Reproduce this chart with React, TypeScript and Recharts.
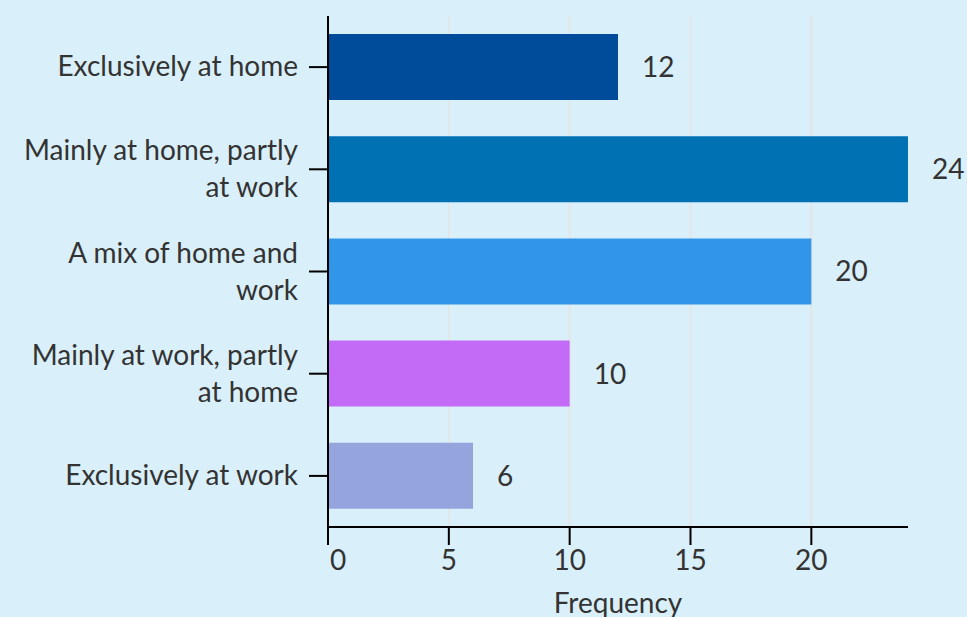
import React from "react";
import { BarChart, Bar, XAxis, YAxis, CartesianGrid, Cell, LabelList } from "recharts";

const categories = [
  "Exclusively at home",
  "Mainly at home, partly at work",
  "A mix of home and work",
  "Mainly at work, partly at home",
  "Exclusively at work",
];
const frequencies = [12, 24, 20, 10, 6];
const barColors = ["#004c9b", "#0072b4", "#3196e8", "#c36bf7", "#95a4dc"];
const xTicks = [0, 5, 10, 15, 20];

// how each category label breaks on two lines
const labelLines: Record<string, string[]> = {
  "Exclusively at home": ["Exclusively at home"],
  "Mainly at home, partly at work": ["Mainly at home, partly", "at work"],
  "A mix of home and work": ["A mix of home and", "work"],
  "Mainly at work, partly at home": ["Mainly at work, partly", "at home"],
  "Exclusively at work": ["Exclusively at work"],
};

const data = categories.map((name, i) => ({ name, value: frequencies[i] }));

const FONT = "Lato, 'Open Sans', sans-serif";
const TEXT = "#333333";
const SIZE = 28;

const YTick = (props: any) => {
  const { x, y, payload } = props;
  const lines = labelLines[payload.value] || [payload.value];
  const start = lines.length === 1 ? 9 : -9;
  return (
    <text x={x} y={y} textAnchor="end" fill={TEXT} fontSize={SIZE} fontFamily={FONT}>
      {lines.map((l, i) => (
        <tspan key={i} x={x} y={y + start + i * 37}>
          {l}
        </tspan>
      ))}
    </text>
  );
};

const XTick = (props: any) => {
  const { x, y, payload } = props;
  const first = payload.value === 0;
  return (
    <text
      x={first ? x + 2 : x}
      y={y + 23}
      textAnchor={first ? "start" : "middle"}
      fill={TEXT}
      fontSize={SIZE}
      fontFamily={FONT}
    >
      {payload.value}
    </text>
  );
};

const gridX = (p: any) => {
  const { offset } = p;
  return xTicks.filter((t) => t > 0).map((t) => offset.left + (t / 24) * offset.width);
};

export default function App() {
  return (
    <div style={{ position: "fixed", left: 0, top: 0, width: 967, height: 617, background: "#d9eff9" }}>
      <BarChart
        width={967}
        height={617}
        data={data}
        layout="vertical"
        margin={{ top: 16, right: 59, left: 0, bottom: 0 }}
      >
        <CartesianGrid horizontal={false} stroke="#e3e6e8" strokeWidth={2} verticalCoordinatesGenerator={gridX} />
        <XAxis
          type="number"
          domain={[0, 24]}
          ticks={xTicks}
          height={90}
          stroke="#000"
          strokeWidth={2}
          tickSize={18}
          tickMargin={2}
          tick={<XTick />}
          label={{ value: "Frequency", position: "insideBottom", offset: 4, fill: TEXT, fontSize: SIZE, fontFamily: FONT }}
        />
        <YAxis
          type="category"
          dataKey="name"
          width={328}
          stroke="#000"
          strokeWidth={2}
          tickSize={19}
          tickMargin={11}
          tick={<YTick />}
          interval={0}
        />
        <Bar dataKey="value" barSize={66} isAnimationActive={false}>
          {data.map((d, i) => (
            <Cell key={d.name} fill={barColors[i]} />
          ))}
          <LabelList dataKey="value" position="right" offset={24} fill={TEXT} fontSize={SIZE} fontFamily={FONT} />
        </Bar>
      </BarChart>
    </div>
  );
}
